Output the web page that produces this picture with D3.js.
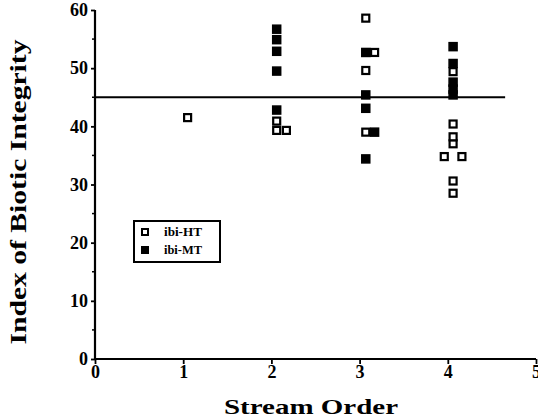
<!DOCTYPE html>
<html><head><meta charset="utf-8">
<script src="https://cdn.jsdelivr.net/npm/d3@7"></script>
<style>body{margin:0;background:#fff}</style>
</head><body>
<script>
// Data
const htX = [1.05, 2.06, 2.06, 2.17, 3.07, 3.17, 3.07, 3.07, 4.06, 4.06, 4.06, 4.06, 3.96, 4.16, 4.06, 4.06];
const htY = [41.5, 40.9, 39.3, 39.3, 58.6, 52.7, 49.6, 39.0, 37.0, 49.4, 40.4, 38.2, 34.8, 34.8, 30.6, 28.5];
const mtX = [2.06, 2.06, 2.06, 2.06, 2.06, 3.07, 3.07, 3.07, 3.17, 3.07, 4.06, 4.06, 4.06, 4.06, 4.06];
const mtY = [56.7, 54.9, 52.9, 49.5, 42.8, 52.7, 45.4, 43.1, 39.0, 34.4, 53.7, 50.8, 47.6, 46.4, 45.4];
const refLine = 45;
const xTicks = [0, 1, 2, 3, 4, 5];
const yTicks = [0, 10, 20, 30, 40, 50, 60];
const yMinor = [5, 15, 25, 35, 45, 55];
const seriesNames = ["ibi-HT", "ibi-MT"];

const W = 538, H = 419;
const svg = d3.select("body").append("svg").attr("width", W).attr("height", H);
const font = "'Liberation Serif','Times New Roman',serif";

const x = d3.scaleLinear().domain([0, 5]).range([95, 536]);
const y = d3.scaleLinear().domain([0, 60]).range([359, 10]);

// reference line
svg.append("line").attr("x1", x(0)).attr("x2", x(4.65)).attr("y1", y(refLine)).attr("y2", y(refLine))
  .attr("stroke", "#000").attr("stroke-width", 2);

// y axis
const yAxis = d3.axisLeft(y).tickValues(yTicks).tickSize(4).tickPadding(3);
const gy = svg.append("g").attr("transform", `translate(${x(0)},0)`).call(yAxis);
gy.select(".domain").attr("stroke-width", 2.2).attr("d", `M-0,${y(60)}H0V${y(0)}`);
gy.selectAll(".tick line").attr("stroke-width", 1.8);
gy.selectAll("text").attr("font-family", font).attr("font-weight", "bold").attr("font-size", 18).attr("fill", "#000");
svg.append("g").selectAll("line").data(yMinor).join("line")
  .attr("x1", x(0) - 3).attr("x2", x(0)).attr("y1", d => y(d)).attr("y2", d => y(d))
  .attr("stroke", "#000").attr("stroke-width", 1.5);

// x axis
const xAxis = d3.axisBottom(x).tickValues(xTicks).tickSize(5).tickPadding(1).tickFormat(d3.format("d"));
const gx = svg.append("g").attr("transform", `translate(0,${y(0)})`).call(xAxis);
gx.select(".domain").attr("stroke-width", 2.2).attr("d", `M${x(0)},0H${x(5)}`);
gx.selectAll(".tick line").attr("stroke-width", 1.8);
gx.selectAll("text").attr("font-family", font).attr("font-weight", "bold").attr("font-size", 18).attr("fill", "#000");

// titles
svg.append("text").attr("x", 311).attr("y", 414).attr("text-anchor", "middle")
  .attr("font-family", font).attr("font-weight", "bold").attr("font-size", 22)
  .attr("textLength", 174).attr("lengthAdjust", "spacingAndGlyphs").text("Stream Order");
svg.append("text").attr("transform", "translate(26,192) rotate(-90)").attr("text-anchor", "middle")
  .attr("font-family", font).attr("font-weight", "bold").attr("font-size", 23)
  .attr("textLength", 305).attr("lengthAdjust", "spacingAndGlyphs").text("Index of Biotic Integrity");

// points
const s = 8;
svg.append("g").selectAll("rect").data(mtX.map((v, i) => [v, mtY[i]])).join("rect")
  .attr("x", d => x(d[0]) - s / 2).attr("y", d => y(d[1]) - s / 2).attr("width", s).attr("height", s)
  .attr("fill", "#000").attr("stroke", "#000").attr("stroke-width", 1.5);
svg.append("g").selectAll("rect").data(htX.map((v, i) => [v, htY[i]])).join("rect")
  .attr("x", d => x(d[0]) - s / 2 + 0.5).attr("y", d => y(d[1]) - s / 2 + 0.5).attr("width", s - 1).attr("height", s - 1)
  .attr("fill", "#fff").attr("stroke", "#000").attr("stroke-width", 2.2);

// legend
const lg = svg.append("g");
lg.append("rect").attr("x", 134).attr("y", 221).attr("width", 86).attr("height", 41)
  .attr("fill", "#fff").attr("stroke", "#000").attr("stroke-width", 2);
lg.append("rect").attr("x", 142).attr("y", 229).attr("width", 6).attr("height", 6)
  .attr("fill", "#fff").attr("stroke", "#000").attr("stroke-width", 2);
lg.append("rect").attr("x", 141).attr("y", 246).attr("width", 8).attr("height", 8).attr("fill", "#000");
lg.selectAll("text").data(seriesNames).join("text")
  .attr("x", 164).attr("y", (d, i) => 236 + i * 18)
  .attr("font-family", font).attr("font-weight", "bold").attr("font-size", 12)
  .attr("textLength", 38).attr("lengthAdjust", "spacingAndGlyphs").text(d => d);
</script>
</body></html>
